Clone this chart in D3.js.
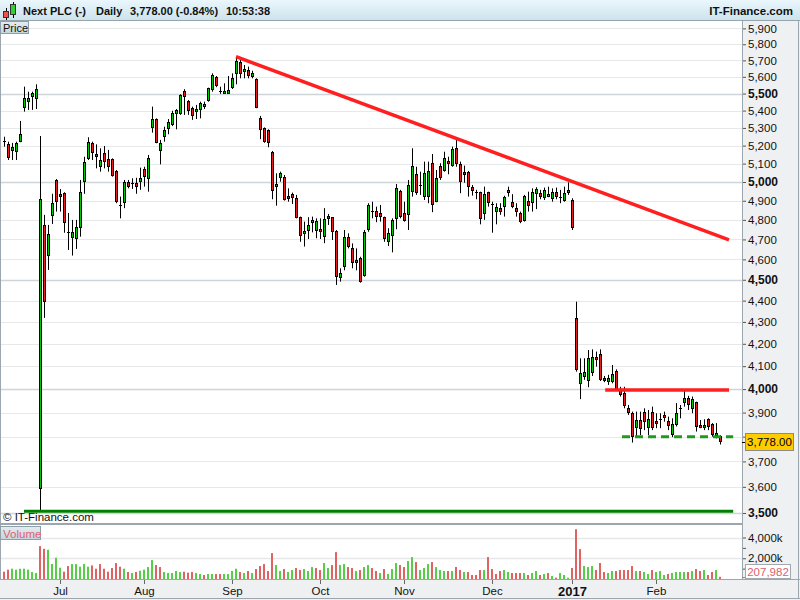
<!DOCTYPE html>
<html><head><meta charset="utf-8">
<script src="https://cdn.jsdelivr.net/npm/d3@7"></script>
<style>body{margin:0;background:#fff}svg{display:block;font-family:"Liberation Sans",Arial,sans-serif}</style>
</head><body><svg id="c" width="800" height="600"></svg>
<script>
// ---- DATA (daily OHLC, Next PLC, 13 Jun 2016 – 23 Feb 2017) ----
const opens=[5228,5209,5172,5164,5219,5417,5452,5478,5466,3592,4774,4617,4822,5011,4936,4940,4738,4706,4700,4757,5002,5124,5213,5148,5080,5157,5126,5126,5060,4876,4887,4998,4996,4996,5002,5069,5015,5298,5350,5172,5247,5292,5317,5380,5379,5517,5456,5417,5390,5404,5423,5455,5521,5597,5515,5498,5498,5532,5617,5690,5630,5641,5597,5587,5357,5298,5288,5166,4972,5020,5029,4919,4937,4913,4814,4726,4745,4786,4745,4750,4714,4814,4814,4743,4507,4564,4711,4655,4581,4605,4519,4748,4848,4847,4835,4814,4688,4717,4805,4954,4838,4826,4945,5042,4984,4919,4919,5102,4895,5087,5061,5114,5089,5185,5096,5053,5056,4975,4944,4945,4831,4945,4882,4840,4864,4869,4940,4892,4861,4838,4794,4900,4887,4937,4943,4914,4922,4908,4948,4922,4900,4940,4904,4317,4022,4054,4037,4071,4140,4154,4044,4032,4030,4080,3996,3985,3918,3897,3835,3869,3904,3835,3901,3862,3874,3886,3865,3807,3849,3918,3942,3961,3914,3944,3846,3839,3872,3851,3803,3803];
const highs=[5250,5222,5215,5222,5340,5541,5511,5511,5555,5254,4826,4774,4937,5016,4962,4945,4836,4800,4800,5011,5138,5247,5222,5207,5185,5198,5176,5129,5065,4922,5011,5011,5020,5023,5078,5083,5148,5423,5355,5232,5307,5351,5399,5409,5496,5526,5462,5423,5433,5452,5452,5535,5621,5605,5541,5561,5605,5621,5723,5702,5672,5662,5637,5591,5369,5303,5292,5170,5047,5056,5038,4966,4943,4931,4817,4791,4814,4817,4808,4808,4861,4831,4814,4748,4556,4748,4731,4680,4655,4613,4748,4887,4895,4869,4878,4817,4757,4808,4989,4958,4895,5011,5185,5083,5056,5111,5111,5153,5065,5102,5166,5138,5194,5232,5111,5089,5060,4984,4958,4948,4975,4948,4895,4887,4887,4926,4975,4935,4887,4843,4931,4948,4966,4972,4958,4970,4975,4966,4970,4958,4975,4998,4913,4395,4135,4135,4172,4175,4165,4175,4057,4062,4105,4086,4010,4010,3932,3904,3904,3904,3918,3911,3925,3897,3897,3904,3883,3876,3940,3932,3999,3971,3968,3946,3869,3872,3876,3856,3856,3807];
const lows=[5194,5120,5120,5120,5219,5394,5404,5404,5409,3511,4319,4548,4779,4843,4843,4734,4647,4619,4652,4714,4937,5120,5120,5074,5056,5074,5056,5029,4887,4808,4861,4966,4963,4937,4958,4975,4948,5273,5213,5096,5222,5264,5311,5292,5375,5375,5375,5346,5351,5355,5409,5452,5511,5538,5498,5498,5498,5527,5555,5591,5591,5591,5591,5414,5236,5216,5191,4908,4874,5002,4901,4895,4883,4808,4688,4664,4702,4736,4706,4702,4681,4774,4697,4475,4491,4546,4655,4556,4546,4486,4515,4739,4808,4788,4791,4688,4667,4635,4752,4808,4791,4748,4922,4931,4931,4904,4887,4840,4892,5011,5056,5042,5083,5083,4940,4996,4922,4927,4908,4777,4800,4869,4734,4777,4826,4817,4922,4861,4817,4783,4791,4843,4843,4856,4908,4904,4919,4895,4908,4887,4895,4931,4748,4076,3957,4040,4008,4057,4098,4035,4030,4018,4025,3993,3968,3918,3890,3776,3800,3807,3827,3807,3827,3835,3835,3862,3827,3798,3842,3876,3925,3911,3897,3821,3835,3827,3827,3800,3793,3768];
const closes=[5228,5129,5191,5216,5264,5472,5472,5505,5526,4910,4393,4728,4888,4892,4922,4786,4738,4739,4762,4945,5107,5222,5157,5138,5120,5107,5083,5033,4892,4876,5002,4972,4996,4972,5020,5026,5129,5350,5216,5213,5288,5336,5384,5404,5492,5478,5398,5369,5404,5446,5437,5532,5613,5545,5515,5517,5521,5591,5698,5617,5645,5605,5621,5414,5288,5222,5216,4954,4984,5047,4904,4908,4913,4812,4719,4745,4774,4800,4794,4741,4803,4803,4739,4515,4532,4711,4660,4581,4597,4491,4736,4878,4848,4814,4816,4702,4731,4800,4966,4814,4796,4984,5087,4940,4984,5047,5060,4878,5020,5020,5129,5096,5181,5096,5002,5038,4972,4952,4944,4803,4935,4887,4882,4869,4840,4919,4958,4869,4843,4791,4926,4872,4948,4962,4919,4958,4937,4948,4922,4922,4940,4958,4760,4083,4069,4074,4135,4140,4128,4040,4037,4050,4066,3996,3975,3926,3897,3800,3869,3831,3862,3872,3835,3852,3874,3879,3844,3853,3897,3918,3961,3932,3957,3839,3837,3844,3841,3807,3817,3778];
// volume, thousands of shares
const volumes=[704,896,992,896,992,992,896,672,576,3168,2912,2816,1440,2048,1088,704,1248,1440,1440,1184,1440,1184,1312,992,1440,992,704,1056,1536,1184,992,672,576,672,800,896,1152,1824,1344,1152,672,576,576,768,672,704,608,672,576,480,384,480,480,480,480,480,480,768,992,672,576,768,576,960,1248,1440,768,2496,1344,768,960,672,864,1056,864,960,768,1152,1056,864,1536,1056,1344,2592,1344,1440,1152,1056,768,864,1152,1344,1056,768,576,960,480,960,1536,1344,1152,1728,2112,1632,864,1056,1440,1632,1152,864,768,768,768,1152,864,672,672,384,384,864,864,2112,960,480,768,864,672,576,576,576,576,384,576,768,384,480,576,288,128,576,384,128,1056,4800,2880,1248,1152,1248,864,1536,672,576,768,768,864,864,864,1248,768,768,672,480,864,672,768,384,480,576,672,672,672,672,768,960,768,864,384,672,864,208];
const priceTicks=[3500,3600,3700,3800,3900,4000,4100,4200,4300,4400,4500,4600,4700,4800,4900,5000,5100,5200,5300,5400,5500,5600,5700,5800,5900];
const monthTicks=[{label:"Jul",i:14},{label:"Aug",i:35},{label:"Sep",i:57},{label:"Oct",i:79},{label:"Nov",i:100},{label:"Dec",i:122},{label:"2017",i:142,bold:true},{label:"Feb",i:163}];
const volTickValues=[1000,2000,3000,4000];
const volLabelValues=[2000,4000];
const lastPrice=3778.00, lastVolume=207982;
const trendLines=[
  {i0:58,p0:5723,i1:181.25,p1:4698,color:"#ff1f1f",w:3.5,dash:null},
  {i0:150.3,p0:3996,i1:181.25,p1:3996,color:"#ff1f1f",w:3.5,dash:null},
  {i0:154.5,p0:3800,i1:182.3,p1:3800,color:"#1f9a1f",w:3,dash:"8,5"},
  {i0:5,p0:3507,i1:182.3,p1:3507,color:"#008000",w:3,dash:null}
];

// ---- LAYOUT ----
const svg=d3.select("#c");
const plotR=742, priceTop=21, priceBot=523, volTop=525, volBot=579;
const fmt=d3.format(",");
const defs=svg.append("defs");
const g1=defs.append("linearGradient").attr("id","tb").attr("x1",0).attr("y1",0).attr("x2",0).attr("y2",1);
g1.append("stop").attr("offset","0").attr("stop-color","#eaf7fc");
g1.append("stop").attr("offset","1").attr("stop-color","#cde3ec");
const g2=defs.append("linearGradient").attr("id","lb").attr("x1",0).attr("y1",0).attr("x2",0).attr("y2",1);
g2.append("stop").attr("offset","0").attr("stop-color","#e4edf1");
g2.append("stop").attr("offset","1").attr("stop-color","#c5d5dd");

svg.append("rect").attr("width",800).attr("height",600).attr("fill","#eef0f2");
// title bar
svg.append("rect").attr("x",0).attr("y",0).attr("width",800).attr("height",20).attr("fill","url(#tb)");
svg.append("line").attr("x1",0).attr("x2",800).attr("y1",20.5).attr("y2",20.5).attr("stroke","#95a5ad");
// title icon
svg.append("line").attr("x1",6.5).attr("x2",6.5).attr("y1",8).attr("y2",20).attr("stroke","#000");
svg.append("rect").attr("x",3.5).attr("y",11.5).attr("width",5).attr("height",6).attr("fill","#f05050").attr("stroke","#333");
svg.append("line").attr("x1",13.5).attr("x2",13.5).attr("y1",2).attr("y2",18).attr("stroke","#000");
svg.append("rect").attr("x",10.5).attr("y",4.5).attr("width",5).attr("height",10).attr("fill","#30d030").attr("stroke","#333");
const tt=[["Next PLC (-)",23],["Daily",96],["3,778.00 (-0.84%)",130],["10:53:38",226]];
svg.selectAll("text.tt").data(tt).enter().append("text").attr("x",d=>d[1]).attr("y",15)
  .attr("font-size",11).attr("font-weight","bold").attr("fill","#111").text(d=>d[0]);
svg.append("text").attr("x",793).attr("y",15).attr("text-anchor","end").attr("font-size",11.5).attr("font-weight","bold").attr("fill","#111").text("IT-Finance.com");

// panels
svg.append("rect").attr("x",0).attr("y",priceTop).attr("width",plotR).attr("height",priceBot-priceTop).attr("fill","#fff");
svg.append("rect").attr("x",0).attr("y",volTop).attr("width",plotR).attr("height",volBot-volTop).attr("fill","#fff");

// scales
const x=d3.scaleLinear().domain([0,179]).range([4,720]);
const y=d3.scaleLog().domain([3500,5900]).range([513,28.4]);
const yv=d3.scaleLinear().domain([0,4000]).range([volBot,537.5]);

// price gridlines
svg.append("g").selectAll("line").data(priceTicks).enter().append("line")
  .attr("x1",1).attr("x2",plotR).attr("y1",d=>Math.round(y(d))+0.5).attr("y2",d=>Math.round(y(d))+0.5)
  .attr("stroke",d=>d%500===0?"#cfd4d8":"#e6e8ea").attr("stroke-width",d=>d%500===0?1.5:1);
// volume gridlines
svg.append("g").selectAll("line").data(volLabelValues).enter().append("line")
  .attr("x1",1).attr("x2",plotR).attr("y1",d=>Math.round(yv(d))+0.5).attr("y2",d=>Math.round(yv(d))+0.5)
  .attr("stroke","#e6e8ea").attr("stroke-width",1.5);

// right price axis
const pa=svg.append("g").attr("transform",`translate(${plotR},0)`)
  .call(d3.axisRight(y).tickValues(priceTicks).tickSize(4).tickFormat(d=>fmt(d)));
pa.select(".domain").remove();
pa.selectAll(".tick line").attr("stroke","#555");
pa.selectAll(".tick text").attr("x",6).attr("font-family","Liberation Sans, Arial, sans-serif")
  .attr("font-size",d=>d%500===0?12:11.5).attr("font-weight",d=>d%500===0?"bold":"normal").attr("fill","#111");
pa.selectAll(".tick").filter(d=>d===3800).select("text").remove();

// volume axis
const va=svg.append("g").attr("transform",`translate(${plotR},0)`)
  .call(d3.axisRight(yv).tickValues(volTickValues).tickSize(4).tickFormat(d=>volLabelValues.includes(d)?fmt(d)+"k":""));
va.select(".domain").remove();
va.selectAll(".tick line").attr("stroke","#555");
va.selectAll(".tick text").attr("x",6).attr("font-family","Liberation Sans, Arial, sans-serif").attr("font-size",11.5).attr("fill","#111");

// frames
const frame=svg.append("g").attr("fill","none").attr("stroke","#9ba6ae");
frame.append("line").attr("x1",plotR+0.5).attr("x2",plotR+0.5).attr("y1",21).attr("y2",579);
frame.append("line").attr("x1",0.5).attr("x2",0.5).attr("y1",21).attr("y2",579);
frame.append("line").attr("x1",0).attr("x2",plotR).attr("y1",priceBot+0.5).attr("y2",priceBot+0.5);
frame.append("line").attr("x1",0).attr("x2",plotR).attr("y1",volTop-0.5).attr("y2",volTop-0.5);
frame.append("line").attr("x1",0).attr("x2",800).attr("y1",volBot+0.5).attr("y2",volBot+0.5);
frame.append("line").attr("x1",0).attr("x2",800).attr("y1",598.5).attr("y2",598.5);
frame.append("line").attr("x1",798.5).attr("x2",798.5).attr("y1",21).attr("y2",599);

const idx=d3.range(closes.length);
const up=i=>closes[i]>opens[i];
const volUp=i=>i>0 && closes[i]>=closes[i-1];

// volume bars
svg.append("g").selectAll("rect").data(idx).enter().append("rect")
  .attr("x",i=>Math.round(x(i))-1).attr("width",2)
  .attr("y",i=>yv(volumes[i])).attr("height",i=>volBot-yv(volumes[i]))
  .attr("fill",i=>volUp(i)?"#55cf45":"#e06262");

// candles
const cg=svg.append("g");
const cx=i=>Math.round(x(i));
cg.selectAll("line.w").data(idx).enter().append("line")
  .attr("x1",i=>cx(i)+0.5).attr("x2",i=>cx(i)+0.5)
  .attr("y1",i=>y(highs[i])).attr("y2",i=>y(lows[i])).attr("stroke","#000").attr("stroke-width",1);
const bodyTop=i=>Math.round(y(Math.max(opens[i],closes[i])));
const bodyH=i=>Math.max(1,Math.round(y(Math.min(opens[i],closes[i])))-bodyTop(i));
cg.selectAll("rect.b").data(idx).enter().append("rect")
  .attr("x",i=>cx(i)-1).attr("width",3)
  .attr("y",i=>bodyH(i)<3?bodyTop(i)-(opens[i]===closes[i]?0:1):bodyTop(i))
  .attr("height",i=>opens[i]===closes[i]?1:Math.max(3,bodyH(i)))
  .attr("fill","#000");
cg.selectAll("rect.i").data(idx.filter(i=>opens[i]!==closes[i])).enter().append("rect")
  .attr("x",i=>cx(i)).attr("width",1)
  .attr("y",i=>(bodyH(i)<3?bodyTop(i)-1:bodyTop(i))+1)
  .attr("height",i=>Math.max(1,bodyH(i)-2))
  .attr("fill",i=>up(i)?"#00c800":"#ea1c1c");

// trend lines
svg.append("g").selectAll("line").data(trendLines).enter().append("line")
  .attr("x1",d=>x(d.i0)).attr("x2",d=>x(d.i1)).attr("y1",d=>y(d.p0)).attr("y2",d=>y(d.p1))
  .attr("stroke",d=>d.color).attr("stroke-width",d=>d.w).attr("stroke-dasharray",d=>d.dash);

// labels in panels
svg.append("rect").attr("x",0.5).attr("y",21.5).attr("width",28).attr("height",12).attr("fill","url(#lb)").attr("stroke","#8c9ea8");
svg.append("text").attr("x",3).attr("y",31.5).attr("font-size",11).attr("fill","#111").text("Price");
svg.append("text").attr("x",3).attr("y",521).attr("font-size",11.5).attr("fill","#111").text("© IT-Finance.com");
svg.append("rect").attr("x",0.5).attr("y",526.5).attr("width",40).attr("height",13).attr("fill","url(#lb)").attr("stroke","#8c9ea8");
svg.append("text").attr("x",3).attr("y",537.5).attr("font-size",11.5).attr("fill","#e06070").text("Volume");

// last price box
const yl=y(lastPrice);
svg.append("line").attr("x1",plotR).attr("x2",plotR+4).attr("y1",Math.round(yl)+0.5).attr("y2",Math.round(yl)+0.5).attr("stroke","#000");
svg.append("rect").attr("x",745.5).attr("y",Math.round(yl)-8.5).attr("width",48).attr("height",17).attr("fill","#ffcc00").attr("stroke","#8a8a8a");
svg.append("text").attr("x",769.5).attr("y",Math.round(yl)+4).attr("text-anchor","middle").attr("font-size",11.5).attr("fill","#000").text(d3.format(",.2f")(lastPrice));
// last volume box
const yvl=yv(lastVolume/1000);
svg.append("line").attr("x1",plotR).attr("x2",plotR+4).attr("y1",Math.round(yvl)+0.5).attr("y2",Math.round(yvl)+0.5).attr("stroke","#e06070");
svg.append("rect").attr("x",745.5).attr("y",564.5).attr("width",45).attr("height",14).attr("fill","#fff").attr("stroke","#a0a8b0");
svg.append("text").attr("x",768).attr("y",575.5).attr("text-anchor","middle").attr("font-size",11.5).attr("fill","#e06070").text(fmt(lastVolume));

// x axis
const xa=svg.append("g");
xa.selectAll("line").data(monthTicks).enter().append("line")
  .attr("x1",d=>cx(d.i)+0.5).attr("x2",d=>cx(d.i)+0.5).attr("y1",580).attr("y2",584).attr("stroke","#666");
xa.selectAll("text").data(monthTicks).enter().append("text")
  .attr("x",d=>cx(d.i)+0.5).attr("y",d=>d.bold?596:595).attr("text-anchor","middle")
  .attr("font-size",d=>d.bold?13:11.5).attr("font-weight",d=>d.bold?"bold":"normal").attr("fill","#111").text(d=>d.label);
</script></body></html>
